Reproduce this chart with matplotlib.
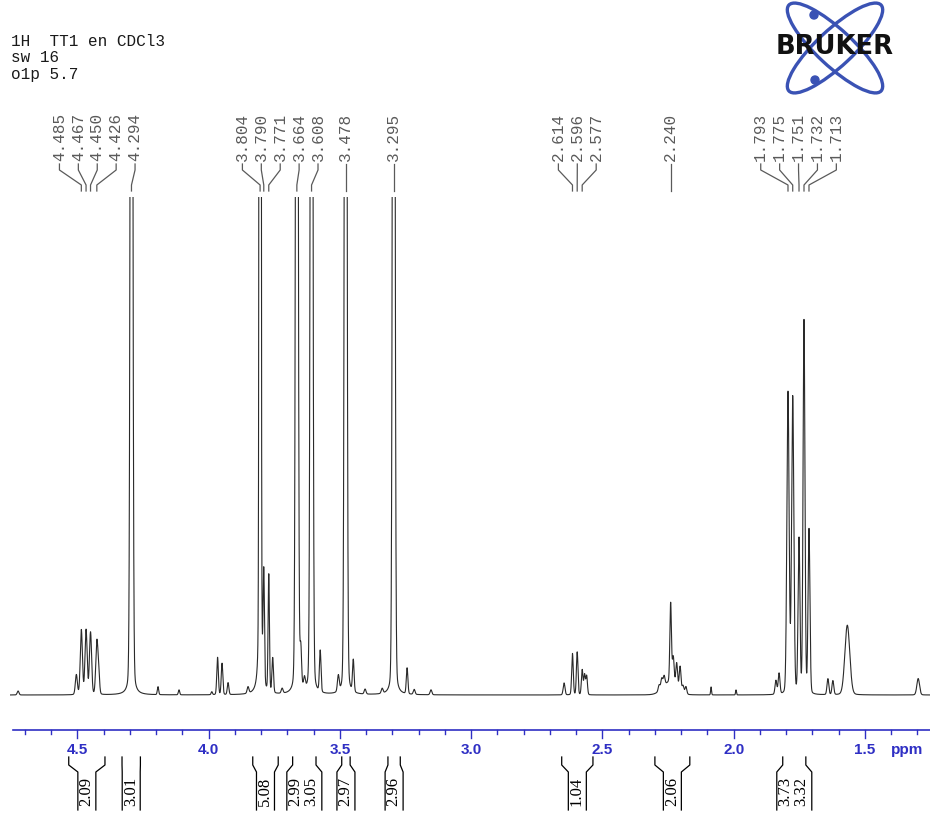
import numpy as np
import matplotlib.pyplot as plt
from matplotlib.patches import Ellipse, Circle

HEADER = ["1H  TT1 en CDCl3", "sw 16", "o1p 5.7"]

# peaks: shift (ppm), height (100 = top of the plot), half width (ppm)
PEAK_PPM = [4.726, 4.504, 4.485, 4.467, 4.450, 4.426, 4.419, 4.294, 4.193, 4.113,
            3.988, 3.966, 3.949, 3.926, 3.850, 3.804, 3.790, 3.771, 3.756, 3.720,
            3.664, 3.649, 3.635, 3.608, 3.575, 3.506, 3.478, 3.449, 3.404, 3.339,
            3.295, 3.244, 3.217, 3.153,
            2.646, 2.614, 2.596, 2.577, 2.568, 2.560,
            2.245, 2.284, 2.274, 2.265, 2.240, 2.230, 2.217, 2.204, 2.193, 2.182,
            2.086, 1.991, 1.839, 1.827, 1.793, 1.775, 1.751, 1.732, 1.713,
            1.641, 1.622, 1.567, 1.297]
PEAK_HEIGHT = [0.8, 4.0, 13.0, 13.0, 12.5, 10.5, 4.0, 300, 1.6, 1.0,
               0.6, 7.5, 6.3, 2.4, 1.3, 1000, 22.0, 23.5, 7.0, 1.0,
               300, 7.5, 2.2, 300, 8.3, 3.2, 300, 6.4, 1.0, 1.0,
               300, 5.2, 1.0, 1.0,
               2.4, 8.3, 8.6, 5.0, 4.0, 3.8,
               2.5, 1.2, 2.0, 2.0, 16.0, 5.5, 5.0, 5.0, 1.5, 1.5,
               1.6, 1.0, 2.8, 4.2, 60.5, 59.5, 31.0, 75.0, 33.0,
               3.2, 2.8, 14.0, 3.3]
PEAK_WIDTH = [0.004, 0.0045, 0.0048, 0.0048, 0.0048, 0.0048, 0.004, 0.0046, 0.003, 0.003,
              0.003, 0.0035, 0.0035, 0.0035, 0.004, 0.0027, 0.003, 0.003, 0.0035, 0.004,
              0.0046, 0.0035, 0.004, 0.0046, 0.0035, 0.004, 0.0046, 0.0035, 0.004, 0.004,
              0.0046, 0.0035, 0.004, 0.004,
              0.004, 0.0035, 0.0035, 0.0035, 0.0035, 0.0035,
              0.03, 0.004, 0.004, 0.004, 0.0035, 0.004, 0.004, 0.004, 0.004, 0.004,
              0.002, 0.002, 0.004, 0.004, 0.005, 0.005, 0.0042, 0.0042, 0.0042,
              0.004, 0.004, 0.011, 0.006]

PEAK_LABELS = [4.485, 4.467, 4.450, 4.426, 4.294,
               3.804, 3.790, 3.771, 3.664, 3.608, 3.478, 3.295,
               2.614, 2.596, 2.577, 2.240,
               1.793, 1.775, 1.751, 1.732, 1.713]

INT_LEFT = [4.533, 4.330, 3.832, 3.680, 3.635, 3.493, 3.317, 2.655, 2.300, 1.813, 1.765]
INT_RIGHT = [4.395, 4.260, 3.735, 3.635, 3.591, 3.461, 3.270, 2.536, 2.167, 1.765, 1.725]
INT_VALUE = ["2.09", "3.01", "5.08", "2.99", "3.05", "2.97", "2.96", "1.04", "2.06", "3.73", "3.32"]

MAJOR_TICKS = [4.5, 4.0, 3.5, 3.0, 2.5, 2.0, 1.5]

W, H = 930, 815
PX0, PX_PER_PPM = 77.4, 262.5   # pixel of 4.5 ppm, pixels per ppm


def to_ppm(x):
    return 4.5 - (x - PX0) / PX_PER_PPM


def to_px(p):
    return PX0 + (4.5 - p) * PX_PER_PPM


def spread(xs, gap):
    # push crowded peak labels apart, keeping each group centred on its peaks
    groups = [[x] for x in sorted(xs)]
    while True:
        spans = []
        for g in groups:
            c = np.mean(g)
            spans.append((c - (len(g) - 1) / 2 * gap, c + (len(g) - 1) / 2 * gap))
        for i in range(len(groups) - 1):
            if spans[i][1] + gap > spans[i + 1][0]:
                groups[i] = groups[i] + groups.pop(i + 1)
                break
        else:
            break
    out = []
    for g, (a, b) in zip(groups, spans):
        out += list(np.linspace(a, b, len(g)))
    return out


fig = plt.figure(figsize=(W / 100, H / 100), dpi=100)

# spectrum
ax = fig.add_axes([10 / W, (H - 715) / H, 920 / W, 518 / H])
ppm = np.linspace(to_ppm(10), to_ppm(930), 30000)
eta = 0.1
y = np.zeros_like(ppm)
for p0, h, w in zip(PEAK_PPM, PEAK_HEIGHT, PEAK_WIDTH):
    d = (ppm - p0) / w
    y += h * (eta / (1 + d ** 2) + (1 - eta) * np.exp(-np.log(2) * d ** 2))
ax.plot(ppm, y, color="#2a2a2a", lw=0.8)
ax.set_xlim(to_ppm(10), to_ppm(930))
ax.set_ylim(-20 / 4.98, 100)
ax.axis("off")

# overlay in ppm / pixel rows for axis, labels and integrals
ov = fig.add_axes([0, 0, 1, 1])
ov.set_xlim(to_ppm(0), to_ppm(W))
ov.set_ylim(H, 0)
ov.axis("off")

blue = "#2f2fc4"
ov.plot([to_ppm(13), to_ppm(W)], [730, 730], color=blue, lw=1.2)
for t in np.arange(47, 12, -1) / 10:
    major = any(abs(t - m) < 1e-6 for m in MAJOR_TICKS)
    ov.plot([t, t], [730, 738 if major else 733.5], color=blue, lw=1)
for t in MAJOR_TICKS:
    ov.text(t, 750, f"{t:.1f}", color=blue, fontsize=11, fontweight="bold",
            family="Liberation Sans", ha="center", va="center")
ov.text(to_ppm(907), 750, "ppm", color=blue, fontsize=11, fontweight="bold",
        family="Liberation Sans", ha="center", va="center")

# header
for i, line in enumerate(HEADER):
    ov.text(to_ppm(11), 42 + 16 * i, line, family="Liberation Mono", fontsize=11.5,
            color="#1a1a1a", ha="left", va="center")

# peak labels
label_gray = "#5a5a5a"
peak_px = [to_px(p) for p in PEAK_LABELS]
label_px = spread(peak_px, 18.9)
for p, xp, xl in zip(sorted(PEAK_LABELS, reverse=True), sorted(peak_px), label_px):
    ov.text(to_ppm(xl), 161, f"{p:.3f}", rotation=90, family="Liberation Mono",
            fontsize=11.5, color=label_gray, ha="center", va="bottom")
    ov.plot([to_ppm(xl), to_ppm(xl), to_ppm(xp), to_ppm(xp)], [164, 170, 185, 191],
            color=label_gray, lw=0.9)

# integrals: touching regions share one bracket, values side by side
groups = []
for a, b, v in zip(INT_LEFT, INT_RIGHT, INT_VALUE):
    if groups and abs(groups[-1][1] - a) < 1e-9:
        groups[-1][1] = b
        groups[-1][2].append(v)
    else:
        groups.append([a, b, [v]])
for a, b, vals in groups:
    xa, xb = to_px(a), to_px(b)
    c = (xa + xb) / 2
    half = 9 if len(vals) == 1 else 17.5
    ov.plot([a, a, to_ppm(c - half), to_ppm(c - half)], [757, 765, 772, 810], color="black", lw=0.9)
    ov.plot([b, b, to_ppm(c + half), to_ppm(c + half)], [757, 765, 772, 810], color="black", lw=0.9)
    for k, v in enumerate(vals):
        ov.text(to_ppm(c - half + 0.5 + 16 * k), 791, v, rotation=90, family="Liberation Serif",
                fontsize=12, ha="left", va="center", color="black")

# Bruker logo
lg = fig.add_axes([740 / W, (H - 100) / H, 190 / W, 100 / H])
lg.set_xlim(0, 190)
lg.set_ylim(100, 0)
lg.axis("off")
logo_blue = "#3a52b4"
for ang in (43, -43):
    lg.add_patch(Ellipse((95, 48), 126, 36, angle=ang, fill=False, ec=logo_blue, lw=2.4))
lg.add_patch(Circle((74, 15), 4, color=logo_blue))
lg.add_patch(Circle((75, 80), 4, color=logo_blue))
lg.text(95, 47, "BRUKER", fontsize=18.5, fontweight="heavy", family="DejaVu Sans",
        ha="center", va="center", color="#111111")

fig.savefig("out.png", dpi=100, facecolor="white")
